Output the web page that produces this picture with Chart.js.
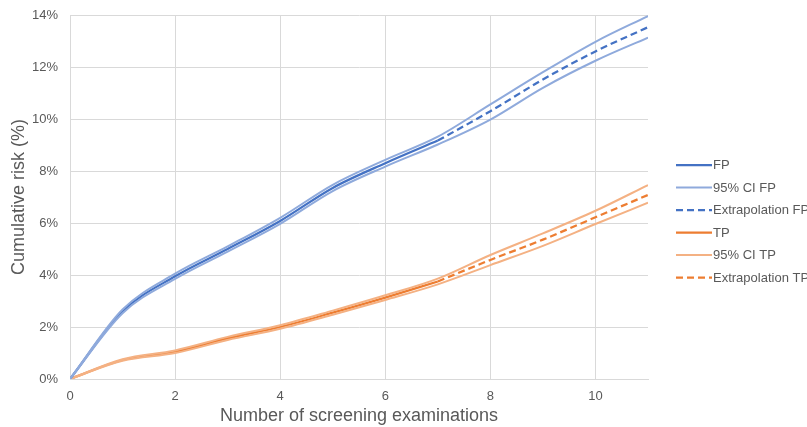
<!DOCTYPE html>
<html>
<head>
<meta charset="utf-8">
<script src="https://cdn.jsdelivr.net/npm/chart.js@4/dist/chart.umd.min.js"></script>
<style>
  html, body { margin: 0; padding: 0; background: #ffffff; }
  #wrap { width: 807px; height: 427px; position: relative; }
</style>
</head>
<body>
<div id="wrap"><canvas id="chart" width="807" height="427"></canvas></div>
<script>
// Screening rounds (observed 0..7, extrapolated 7..11)
const roundsObserved = [0, 1, 2, 3, 4, 5, 6, 7];
const roundsExtrap = [7, 8, 9, 10, 11];
const roundsAll = [0, 1, 2, 3, 4, 5, 6, 7, 8, 9, 10, 11];

// Cumulative false-positive risk (%)
const fpObserved = [0, 2.6, 3.95, 5.0, 6.08, 7.35, 8.3, 9.17];
const fpExtrap = [9.17, 10.3, 11.52, 12.6, 13.53];
const fpUpper = [0, 2.67, 4.05, 5.1, 6.2, 7.47, 8.43, 9.32, 10.56, 11.8, 12.97, 13.96];
const fpLower = [0, 2.53, 3.85, 4.9, 5.97, 7.23, 8.17, 9.02, 9.98, 11.2, 12.24, 13.13];

// Cumulative true-positive risk (%)
const tpObserved = [0, 0.73, 1.05, 1.56, 2.0, 2.55, 3.13, 3.75];
const tpExtrap = [3.75, 4.58, 5.36, 6.22, 7.08];
const tpUpper = [0, 0.76, 1.1, 1.62, 2.07, 2.63, 3.22, 3.86, 4.77, 5.6, 6.47, 7.46];
const tpLower = [0, 0.7, 1.0, 1.5, 1.93, 2.47, 3.04, 3.64, 4.38, 5.12, 5.96, 6.78];

// Axis ticks
const xTicks = [0, 2, 4, 6, 8, 10];
const yTicks = [0, 2, 4, 6, 8, 10, 12, 14];

const BLUE = '#4472C4', BLUE_CI = '#8FAADC';
const ORANGE = '#ED7D31', ORANGE_CI = '#F4B183';
const TEXT = '#595959', GRID = '#d9d9d9';
const FONT = '"Liberation Sans", Arial, sans-serif';

const pts = (xs, ys) => xs.map((x, i) => ({ x, y: ys[i] }));

function line(label, xs, ys, color, width, dash) {
  return {
    label, data: pts(xs, ys), borderColor: color, backgroundColor: color,
    borderWidth: width, borderDash: dash || [], pointRadius: 0,
    cubicInterpolationMode: 'monotone', fill: false
  };
}

const datasets = [
  line('95% CI FP', roundsAll, fpUpper, BLUE_CI, 2),
  line('95% CI FP (lower)', roundsAll, fpLower, BLUE_CI, 2),
  line('FP', roundsObserved, fpObserved, BLUE, 2.25),
  line('Extrapolation FP', roundsExtrap, fpExtrap, BLUE, 2.25, [7, 4]),
  line('95% CI TP', roundsAll, tpUpper, ORANGE_CI, 2),
  line('95% CI TP (lower)', roundsAll, tpLower, ORANGE_CI, 2),
  line('TP', roundsObserved, tpObserved, ORANGE, 2.25),
  line('Extrapolation TP', roundsExtrap, tpExtrap, ORANGE, 2.25, [7, 4])
];

const legendOrder = ['FP', '95% CI FP', 'Extrapolation FP', 'TP', '95% CI TP', 'Extrapolation TP'];

// Legend drawn to the right of the plot, one row per series
const sideLegend = {
  id: 'sideLegend',
  afterDraw(chart) {
    const ctx = chart.ctx;
    const area = chart.chartArea;
    const x0 = area.right + 28;
    const lineLen = 36;
    let y = area.top + 150;
    ctx.save();
    ctx.font = '13px ' + FONT;
    ctx.textBaseline = 'middle';
    ctx.textAlign = 'left';
    legendOrder.forEach(name => {
      const ds = chart.data.datasets.find(d => d.label === name);
      ctx.strokeStyle = ds.borderColor;
      ctx.lineWidth = ds.borderWidth;
      ctx.setLineDash(ds.borderDash);
      ctx.beginPath();
      ctx.moveTo(x0, y);
      ctx.lineTo(x0 + lineLen, y);
      ctx.stroke();
      ctx.setLineDash([]);
      ctx.fillStyle = TEXT;
      ctx.fillText(name, x0 + lineLen + 1, y + 0.5);
      y += 22.5;
    });
    ctx.restore();
  }
};

new Chart(document.getElementById('chart'), {
  type: 'line',
  data: { datasets },
  options: {
    responsive: false,
    animation: false,
    layout: { padding: { left: 0, right: 159, top: 15, bottom: 0 } },
    plugins: { legend: { display: false }, tooltip: { enabled: false } },
    scales: {
      x: {
        type: 'linear', min: 0, max: 11,
        afterBuildTicks(scale) { scale.ticks = xTicks.map(v => ({ value: v })); },
        afterFit(scale) { scale.height = 48; scale.paddingLeft = 0; scale.paddingRight = 0; },
        ticks: {
          color: TEXT, padding: 10, maxRotation: 0,
          font: { family: FONT, size: 13 }
        },
        grid: { color: GRID, lineWidth: 1, drawTicks: false },
        border: { color: GRID, width: 1 },
        title: {
          display: true, text: 'Number of screening examinations', color: TEXT,
          font: { family: FONT, size: 18 },
          padding: { top: 0, bottom: 0 }
        }
      },
      y: {
        type: 'linear', min: 0, max: 14,
        afterBuildTicks(scale) { scale.ticks = yTicks.map(v => ({ value: v })); },
        afterFit(scale) { scale.width = 70; scale.paddingTop = 0; scale.paddingBottom = 0; },
        ticks: {
          color: TEXT, padding: 12,
          font: { family: FONT, size: 13 },
          callback: v => v + '%'
        },
        grid: { color: GRID, lineWidth: 1, drawTicks: false },
        border: { color: GRID, width: 1 },
        title: {
          display: true, text: 'Cumulative risk (%)', color: TEXT,
          font: { family: FONT, size: 18 },
          padding: { top: 8, bottom: 0 }
        }
      }
    }
  },
  plugins: [sideLegend]
});
</script>
</body>
</html>
